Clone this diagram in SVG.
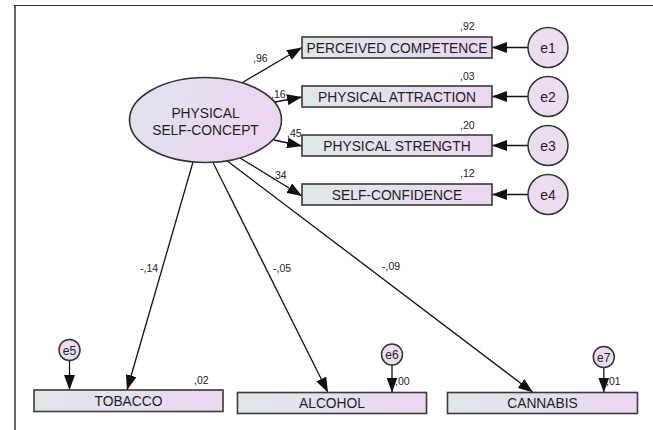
<svg xmlns="http://www.w3.org/2000/svg" width="653" height="430" viewBox="0 0 653 430">
<defs>
<linearGradient id="gbox" x1="0" y1="0" x2="1" y2="0">
<stop offset="0" stop-color="#dee7ea"/>
<stop offset="1" stop-color="#ecd6f1"/>
</linearGradient>
<linearGradient id="gell" x1="0" y1="0" x2="1" y2="0.3">
<stop offset="0" stop-color="#dfe3ee"/>
<stop offset="1" stop-color="#edd6f1"/>
</linearGradient>
<marker id="ah" markerUnits="userSpaceOnUse" markerWidth="15" markerHeight="11" refX="15" refY="5.5" orient="auto">
<path d="M0,0 L15,5.5 L0,11 z" fill="#111"/>
</marker>
<style>
.box{fill:url(#gbox);stroke:#3a3a3a;stroke-width:1.6}
.err{fill:#ecdcf2;stroke:#333;stroke-width:1.5}
.lbl{font-family:"Liberation Sans",Arial,sans-serif;font-size:13.8px;fill:#1e1e1e;text-anchor:middle}
.el{font-family:"Liberation Sans",Arial,sans-serif;font-size:14px;fill:#1e1e1e;text-anchor:middle}
.num{font-family:"Liberation Sans",Arial,sans-serif;font-size:10.5px;fill:#222}
.sm{font-family:"Liberation Sans",Arial,sans-serif;font-size:12px;fill:#1e1e1e;text-anchor:middle}
.c{stroke:#111;stroke-width:1.3;fill:none;marker-end:url(#ah)}
</style>
</defs>
<rect width="653" height="430" fill="#fff"/>
<line x1="15" y1="5" x2="15" y2="430" stroke="#666" stroke-width="2"/>
<line x1="14" y1="5.5" x2="653" y2="5.5" stroke="#333" stroke-width="1"/>

<g id="connectors">
<line class="c" x1="240" y1="84" x2="302" y2="47.5"/>
<line class="c" x1="275" y1="102" x2="302" y2="97"/>
<line class="c" x1="274" y1="140" x2="302" y2="146"/>
<line class="c" x1="240" y1="158" x2="302" y2="196"/>
<line class="c" x1="193" y1="162" x2="127" y2="390"/>
<line class="c" x1="213" y1="162.5" x2="328" y2="392.5"/>
<line class="c" x1="226" y1="160" x2="533" y2="392.5"/>
<line class="c" x1="528" y1="47.5" x2="492" y2="47.5"/>
<line class="c" x1="528" y1="96.5" x2="492" y2="96.5"/>
<line class="c" x1="528" y1="145.5" x2="492" y2="145.5"/>
<line class="c" x1="528" y1="194.5" x2="492" y2="194.5"/>
<line class="c" x1="69.5" y1="360.5" x2="69.5" y2="390"/>
<line class="c" x1="392" y1="365" x2="392" y2="392.5"/>
<line class="c" x1="603.8" y1="367.5" x2="603.8" y2="392.5"/>
<text class="num" x="253" y="62">,96</text>
<text class="num" x="271" y="98">,16</text>
<text class="num" x="287" y="137">,45</text>
<text class="num" x="272" y="179">,34</text>
<text class="num" x="140" y="272">-,14</text>
<text class="num" x="273" y="272">-,05</text>
<text class="num" x="382" y="270">-,09</text>
</g>

<g id="physical-self-concept">
<ellipse cx="205.5" cy="120" rx="76" ry="42.5" fill="url(#gell)" stroke="#333" stroke-width="1.6"/>
<text class="lbl" x="205.5" y="118">PHYSICAL</text>
<text class="lbl" x="205.5" y="135">SELF-CONCEPT</text>
</g>

<g id="perceived-competence">
<rect class="box" x="302" y="37" width="190" height="21"/>
<text class="lbl" x="397" y="52.5">PERCEIVED COMPETENCE</text>
<text class="num" x="460" y="30">,92</text>
</g>
<g id="physical-attraction">
<rect class="box" x="302" y="86" width="190" height="21"/>
<text class="lbl" x="397" y="101.5">PHYSICAL ATTRACTION</text>
<text class="num" x="460" y="80">,03</text>
</g>
<g id="physical-strength">
<rect class="box" x="302" y="135" width="190" height="21"/>
<text class="lbl" x="397" y="150.5">PHYSICAL STRENGTH</text>
<text class="num" x="460" y="129">,20</text>
</g>
<g id="self-confidence">
<rect class="box" x="302" y="184" width="190" height="21"/>
<text class="lbl" x="397" y="199.5">SELF-CONFIDENCE</text>
<text class="num" x="460" y="177">,12</text>
</g>

<g id="e1"><circle class="err" cx="548" cy="47.5" r="20"/><text class="el" x="548" y="52.5">e1</text></g>
<g id="e2"><circle class="err" cx="548" cy="96.5" r="20"/><text class="el" x="548" y="101.5">e2</text></g>
<g id="e3"><circle class="err" cx="548" cy="145.5" r="20"/><text class="el" x="548" y="150.5">e3</text></g>
<g id="e4"><circle class="err" cx="548" cy="194.5" r="20"/><text class="el" x="548" y="199.5">e4</text></g>

<g id="tobacco">
<rect class="box" x="34" y="390" width="189" height="21.5"/>
<text class="lbl" x="128.5" y="405.5">TOBACCO</text>
<text class="num" x="194" y="384">,02</text>
</g>
<g id="alcohol">
<rect class="box" x="237.5" y="392.5" width="189" height="21"/>
<text class="lbl" x="332" y="408">ALCOHOL</text>
<text class="num" x="395" y="385">,00</text>
</g>
<g id="cannabis">
<rect class="box" x="447.5" y="392.5" width="190" height="21"/>
<text class="lbl" x="542.5" y="408">CANNABIS</text>
<text class="num" x="606" y="385">,01</text>
</g>

<g id="e5"><circle class="err" cx="69.5" cy="350" r="10.5"/><text class="sm" x="69.5" y="354.5">e5</text></g>
<g id="e6"><circle class="err" cx="392" cy="354.5" r="10.5"/><text class="sm" x="392" y="359">e6</text></g>
<g id="e7"><circle class="err" cx="603.8" cy="357" r="10.5"/><text class="sm" x="603.8" y="361.5">e7</text></g>
</svg>
